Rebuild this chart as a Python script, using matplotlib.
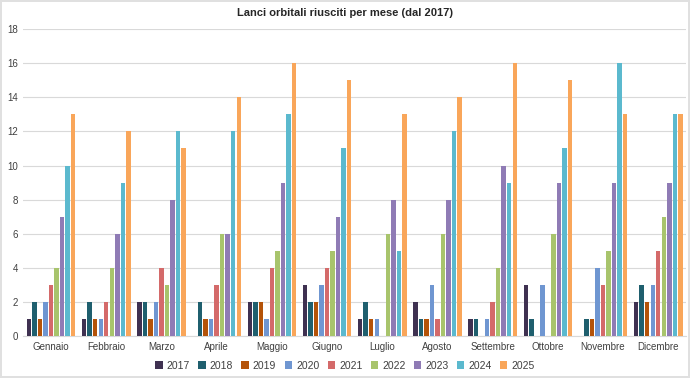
import numpy as np
import matplotlib
matplotlib.use("Agg")
import matplotlib.pyplot as plt

plt.rcParams["font.family"] = ["Liberation Sans", "DejaVu Sans"]

months = ["Gennaio", "Febbraio", "Marzo", "Aprile", "Maggio", "Giugno",
          "Luglio", "Agosto", "Settembre", "Ottobre", "Novembre", "Dicembre"]
years = ["2017", "2018", "2019", "2020", "2021", "2022", "2023", "2024", "2025"]

y2017 = [1, 1, 2, 0, 2, 3, 1, 2, 1, 3, 0, 2]
y2018 = [2, 2, 2, 2, 2, 2, 2, 1, 1, 1, 1, 3]
y2019 = [1, 1, 1, 1, 2, 2, 1, 1, 0, 0, 1, 2]
y2020 = [2, 1, 2, 1, 1, 3, 1, 3, 1, 3, 4, 3]
y2021 = [3, 2, 4, 3, 4, 4, 0, 1, 2, 0, 3, 5]
y2022 = [4, 4, 3, 6, 5, 5, 6, 6, 4, 6, 5, 7]
y2023 = [7, 6, 8, 6, 9, 7, 8, 8, 10, 9, 9, 9]
y2024 = [10, 9, 12, 12, 13, 11, 5, 12, 9, 11, 16, 13]
y2025 = [13, 12, 11, 14, 16, 15, 13, 14, 16, 15, 13, 13]

series = [y2017, y2018, y2019, y2020, y2021, y2022, y2023, y2024, y2025]
colors = ["#3f3151", "#1f5f6e", "#b45309", "#6f96d1", "#d46a6a",
          "#a8c46c", "#8f7bb5", "#5bb9ce", "#f9a65a"]

fig = plt.figure(figsize=(6.9, 3.78), dpi=100)
fig.patch.set_edgecolor("#e0e0e0")
fig.patch.set_linewidth(1.5)
ax = fig.add_axes([0.034, 0.111, 0.960, 0.812])

x = np.arange(len(months))
step = 0.1
width = 0.08
for i, (vals, c, yr) in enumerate(zip(series, colors, years)):
    ax.bar(x + (i - 4) * step, vals, width=width, color=c, label=yr, zorder=3)

ax.set_xlim(-0.5, len(months) - 0.5)
ax.set_ylim(0, 18)
ax.set_yticks(range(0, 19, 2))
ax.set_xticks(x)
ax.set_xticklabels(months)
ax.tick_params(axis="both", length=0, labelsize=7, colors="#404040", pad=4)
ax.grid(axis="y", color="#d9d9d9", linewidth=0.8, zorder=0)
for s in ["top", "right", "left"]:
    ax.spines[s].set_visible(False)
ax.spines["bottom"].set_color("#d9d9d9")

fig.suptitle("Lanci orbitali riusciti per mese (dal 2017)", y=0.978,
             fontsize=8, fontweight="bold", color="#262626")
fig.legend(loc="lower center", ncol=9, bbox_to_anchor=(0.5, -0.005),
           frameon=False, fontsize=7.5, handlelength=0.7, handleheight=0.7,
           handletextpad=0.4, columnspacing=0.8, labelcolor="#404040")

fig.savefig("out.png", dpi=100, edgecolor=fig.get_edgecolor())
